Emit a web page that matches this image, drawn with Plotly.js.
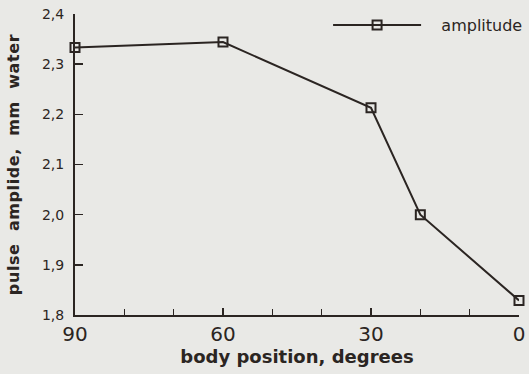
<!DOCTYPE html>
<html>
<head>
<meta charset="utf-8">
<script src="https://cdn.plot.ly/plotly-3.0.1.min.js"></script>
<style>
html,body{margin:0;padding:0;background:#e9e9e6;}
#chart{width:529px;height:374px;}
.ytitle{letter-spacing:0.6px;}
</style>
</head>
<body>
<div id="chart"></div>
<script>
// Data
const bodyPosition = [90, 60, 30, 20, 0];
const amplitude = [2.333, 2.344, 2.213, 2.0, 1.829];
const xTickVals = [90, 60, 30, 0];
const xTickText = ['90', '60', '30', '0'];
const yTickVals = [1.8, 1.9, 2.0, 2.1, 2.2, 2.3, 2.4];
const seriesName = 'amplitude';

const ink = '#2b2522';
const font = 'DejaVu Sans, Arial, Helvetica, sans-serif';

const trace = {
  x: bodyPosition,
  y: amplitude,
  type: 'scatter',
  mode: 'lines+markers',
  name: '\u00a0\u00a0\u00a0' + seriesName,
  line: {color: ink, width: 2},
  marker: {symbol: 'square-open', size: 9, color: ink, line: {width: 2, color: ink}},
  cliponaxis: false
};

const layout = {
  width: 529,
  height: 374,
  margin: {l: 75, r: 10, t: 14, b: 59, autoexpand: false},
  paper_bgcolor: '#e9e9e6',
  plot_bgcolor: 'rgba(0,0,0,0)',
  separators: ', ',
  font: {family: font, color: ink},
  showlegend: true,
  legend: {
    x: 0.57, xanchor: 'left', y: 0.963, yanchor: 'middle',
    bgcolor: 'rgba(0,0,0,0)',
    font: {size: 16, family: font, color: ink},
    itemwidth: 88
  },
  xaxis: {
    range: [90, 0],
    autorange: false,
    tickvals: xTickVals,
    ticktext: xTickText,
    ticks: 'inside',
    ticklen: 7,
    tickwidth: 1.5,
    tickcolor: ink,
    minor: {dtick: 10, ticks: 'inside', ticklen: 6, tickwidth: 1.5, tickcolor: ink, showgrid: false},
    showline: true,
    linecolor: ink,
    linewidth: 2,
    showgrid: false,
    zeroline: false,
    tickfont: {size: 20, family: font, color: ink},
    title: {text: '<b>body position, degrees</b>', font: {size: 18, family: font, color: ink}, standoff: 2}
  },
  yaxis: {
    range: [1.8, 2.4],
    autorange: false,
    tickvals: yTickVals,
    tickformat: '.1f',
    ticks: 'inside',
    ticklen: 8,
    tickwidth: 1.5,
    tickcolor: ink,
    ticklabelstandoff: 6,
    showline: true,
    linecolor: ink,
    linewidth: 2,
    showgrid: false,
    zeroline: false,
    tickfont: {size: 14, family: font, color: ink},
    title: {text: '<b>pulse  amplide,  mm  water</b>', font: {size: 16, family: font, color: ink}, standoff: 18}
  }
};

Plotly.newPlot('chart', [trace], layout, {displayModeBar: false, staticPlot: true});
</script>
</body>
</html>
